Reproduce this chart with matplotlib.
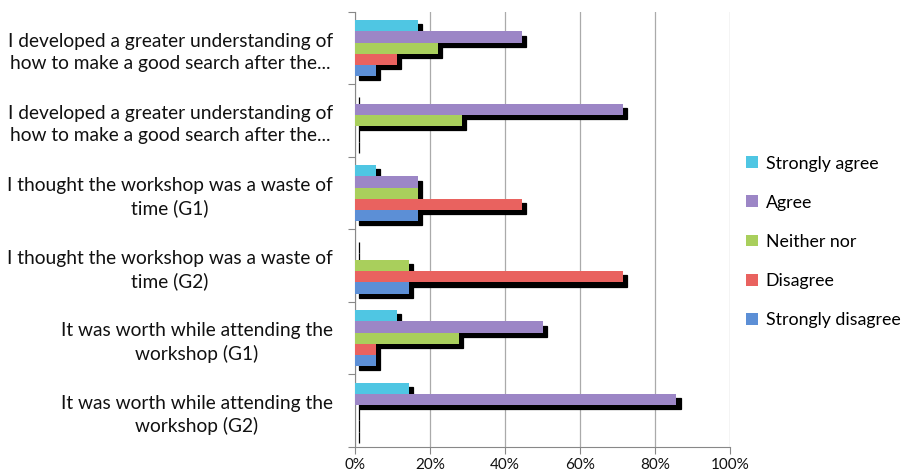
import numpy as np
import matplotlib
matplotlib.use("Agg")
import matplotlib.pyplot as plt
from matplotlib.transforms import offset_copy
from matplotlib.ticker import PercentFormatter

plt.rcParams['font.family'] = ['Lato', 'DejaVu Sans']

questions = [
    "I developed a greater understanding of\nhow to make a good search after the...",
    "I developed a greater understanding of\nhow to make a good search after the...",
    "I thought the workshop was a waste of\ntime (G1)",
    "I thought the workshop was a waste of\ntime (G2)",
    "It was worth while attending the\nworkshop (G1)",
    "It was worth while attending the\nworkshop (G2)",
]
answers = ["Strongly agree", "Agree", "Neither nor", "Disagree", "Strongly disagree"]
colors = ["#4fc6e3", "#9c86c6", "#a9cf5c", "#e9625f", "#5c8fd6"]

# percentage of responses per question, one list per answer
strongly_agree = [16.7, 0.0, 5.6, 0.0, 11.1, 14.3]
agree = [44.4, 71.4, 16.7, 0.0, 50.0, 85.7]
neither_nor = [22.2, 28.6, 16.7, 14.3, 27.8, 0.0]
disagree = [11.1, 0.0, 44.4, 71.4, 5.6, 0.0]
strongly_disagree = [5.6, 0.0, 16.7, 14.3, 5.6, 0.0]
series = [strongly_agree, agree, neither_nor, disagree, strongly_disagree]

fig = plt.figure(figsize=(9.07, 4.74), dpi=100)
ax = fig.add_axes([0.3914, 0.057, 0.4135, 0.9177])

n_q = len(questions)
centers = np.arange(n_q)
bar_h = 0.154
shadow = offset_copy(ax.transData, fig=fig, x=3, y=-3, units='points')

# black drop shadows first, then the coloured bars on top
for i, (vals, col, lab) in enumerate(zip(series, colors, answers)):
    y = centers - 2 * bar_h + i * bar_h
    ax.barh(y, vals, height=bar_h, color='black', edgecolor='black',
            linewidth=0.9, transform=shadow, zorder=2)
for i, (vals, col, lab) in enumerate(zip(series, colors, answers)):
    y = centers - 2 * bar_h + i * bar_h
    ax.barh(y, vals, height=bar_h, color=col, linewidth=0, label=lab, zorder=3)

ax.set_xlim(0, 100)
ax.set_ylim(n_q - 0.5, -0.5)
ax.set_xticks(np.arange(0, 101, 20))
ax.xaxis.set_major_formatter(PercentFormatter(decimals=0))
ax.set_yticks(np.arange(-0.5, n_q, 1.0))
ax.set_yticklabels([])
ax.set_yticks(centers, minor=True)
ax.set_yticklabels(questions, minor=True, ha='right', multialignment='center',
                   fontsize=13.8, color='#111111', linespacing=1.35)
ax.tick_params(axis='y', which='minor', length=0, pad=16)
ax.tick_params(axis='y', which='major', length=5, color='#888888', width=0.8)
ax.tick_params(axis='x', length=5, color='#888888', width=0.8, labelsize=11,
               pad=3, labelcolor='#111111')

ax.grid(axis='x', color='#aaaaaa', linewidth=0.9, zorder=0)
ax.set_axisbelow(True)
for side in ['top', 'right']:
    ax.spines[side].set_visible(False)
for side in ['left', 'bottom']:
    ax.spines[side].set_color('#888888')
    ax.spines[side].set_linewidth(0.8)

leg = fig.legend(loc='center left', bbox_to_anchor=(0.805, 0.49), frameon=False,
                 fontsize=12.8, handlelength=0.65, handleheight=0.65,
                 handletextpad=0.45, labelspacing=1.3)

fig.savefig("out.png", dpi=100)
